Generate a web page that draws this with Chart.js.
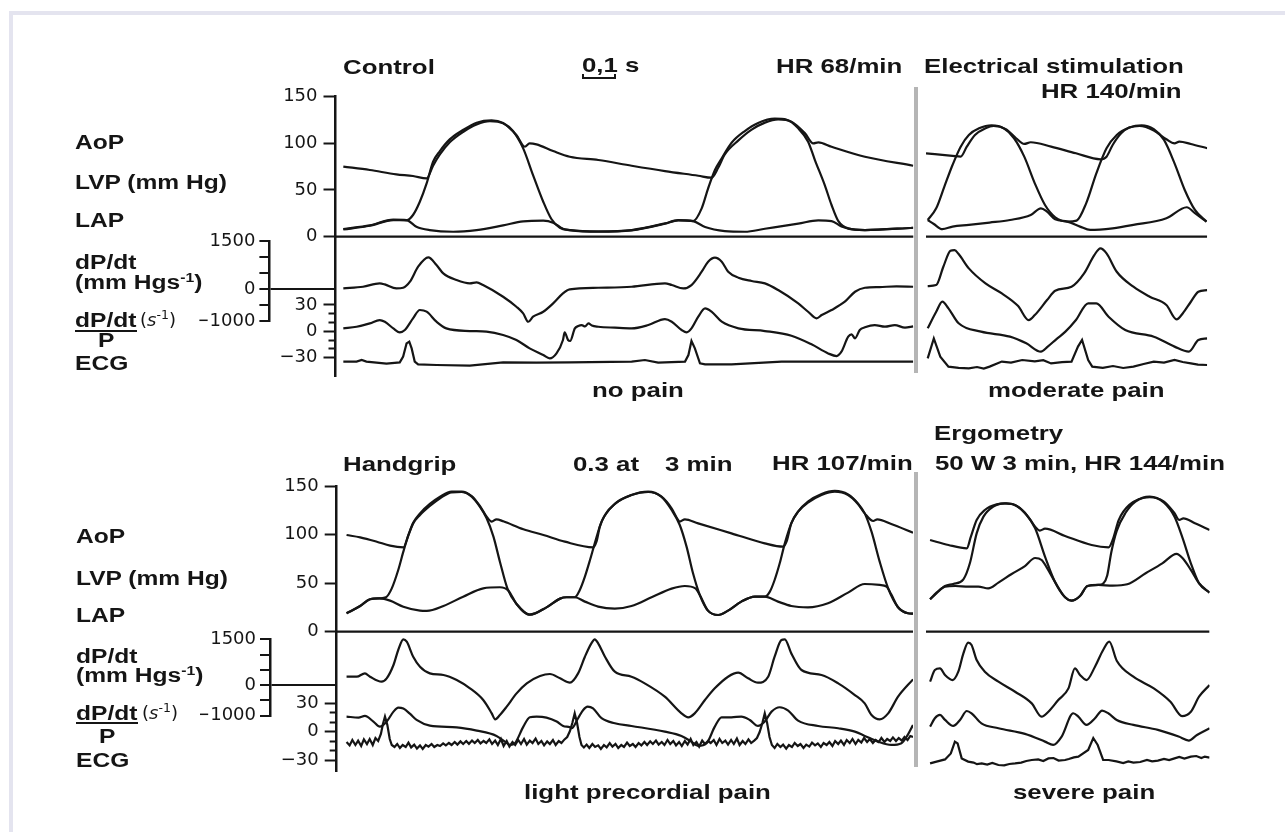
<!DOCTYPE html>
<html lang="en">
<head>
<meta charset="utf-8">
<title>AoP / LVP / LAP traces</title>
<script src="https://cdn.jsdelivr.net/npm/chart.js@4.4.1/dist/chart.umd.min.js"></script>
<style>
html, body { margin: 0; padding: 0; background: #fff; }
#page { position: relative; width: 1285px; height: 832px; overflow: hidden; background: #fff; }
#page canvas { position: absolute; left: 0; top: 0; }
.frame { position: absolute; left: 9px; top: 11px; width: 1400px; height: 1000px; border: 4px solid #e4e4ef; }
.t { position: absolute; font: bold 20.5px/20px "Liberation Sans", Arial, sans-serif; color: #151515; white-space: pre; transform: scaleX(1.26); transform-origin: 0 50%; }
.t.r { transform-origin: 100% 50%; }
.t.lab { font-size: 19.5px; line-height: 18.5px; }
.t sup, .n sup { font-size: 12.5px; vertical-align: 0; position: relative; top: -7px; }
.n { position: absolute; font: 18px/20px "DejaVu Sans", sans-serif; color: #151515; white-space: pre; }
.bar { position: absolute; background: #151515; }
.sep { position: absolute; width: 4px; background: #b5b5b5; }
.scalebar { position: absolute; border: 2px solid #151515; border-top: none; }
</style>
</head>
<body>
<div id="page">
  <div class="frame"></div>

  <canvas id="tlMain" width="1285" height="832"></canvas>
  <canvas id="tlRatioAxis" width="1285" height="832"></canvas>
  <canvas id="tlDpdtAxis" width="1285" height="832"></canvas>
  <canvas id="trMain" width="1285" height="832"></canvas>
  <canvas id="blMain" width="1285" height="832"></canvas>
  <canvas id="blRatioAxis" width="1285" height="832"></canvas>
  <canvas id="blDpdtAxis" width="1285" height="832"></canvas>
  <canvas id="brMain" width="1285" height="832"></canvas>

  <div class="sep" style="left:914px;top:87px;height:286px"></div>
  <div class="sep" style="left:914px;top:472px;height:295px"></div>

  <!-- top row headings -->
  <div class="t" style="left:343px;top:57px">Control</div>
  <div class="t" style="left:582px;top:55px">0,1 s</div>
  <div class="scalebar" style="left:582px;top:74px;width:30px;height:3px"></div>
  <div class="t" style="left:776px;top:56px">HR 68/min</div>
  <div class="t" style="left:924px;top:56px">Electrical stimulation</div>
  <div class="t r" style="right:103px;top:81px">HR 140/min</div>
  <div class="t" style="left:592px;top:380px">no pain</div>
  <div class="t" style="left:988px;top:380px">moderate pain</div>

  <!-- bottom row headings -->
  <div class="t" style="left:343px;top:454px">Handgrip</div>
  <div class="t" style="left:573px;top:454px">0.3 at</div>
  <div class="t" style="left:665px;top:454px">3 min</div>
  <div class="t" style="left:772px;top:453px">HR 107/min</div>
  <div class="t" style="left:934px;top:423px">Ergometry</div>
  <div class="t" style="left:935px;top:453px">50 W 3 min, HR 144/min</div>
  <div class="t" style="left:524px;top:782px">light precordial pain</div>
  <div class="t" style="left:1013px;top:782px">severe pain</div>

  <!-- trace names, top row -->
  <div class="t lab" style="left:75px;top:133px">AoP</div>
  <div class="t lab" style="left:75px;top:173px">LVP (mm Hg)</div>
  <div class="t lab" style="left:75px;top:211px">LAP</div>
  <div class="t lab" style="left:75px;top:253px">dP/dt</div>
  <div class="t lab" style="left:75px;top:273px">(mm Hgs<sup>-1</sup>)</div>
  <div class="t lab" style="left:75px;top:311px">dP/dt</div>
  <div class="bar" style="left:75px;top:330px;width:62px;height:2px"></div>
  <div class="t lab" style="left:98px;top:331px">P</div>
  <div class="n" style="left:140px;top:310px">(<i>s</i><sup>-1</sup>)</div>
  <div class="t lab" style="left:75px;top:354px">ECG</div>

  <!-- trace names, bottom row -->
  <div class="t lab" style="left:76px;top:527px">AoP</div>
  <div class="t lab" style="left:76px;top:569px">LVP (mm Hg)</div>
  <div class="t lab" style="left:76px;top:606px">LAP</div>
  <div class="t lab" style="left:76px;top:647px">dP/dt</div>
  <div class="t lab" style="left:76px;top:666px">(mm Hgs<sup>-1</sup>)</div>
  <div class="t lab" style="left:76px;top:704px">dP/dt</div>
  <div class="bar" style="left:76px;top:722px;width:62px;height:2px"></div>
  <div class="t lab" style="left:99px;top:727px">P</div>
  <div class="n" style="left:142px;top:703px">(<i>s</i><sup>-1</sup>)</div>
  <div class="t lab" style="left:76px;top:751px">ECG</div>
</div>

<script>
// Units: time in ms, pressures in mm Hg, dP/dt in mm Hg/s, dP/dt/P in 1/s,
// ECG in arbitrary units (R wave about 1)
const INK = '#151515';
const W = 1285, H = 832;

const pressureTicks = [0, 50, 100, 150];
const dpdtTicks = [-1000, -500, 0, 500, 1000, 1500];
const ratioTicks = [-30, -20, -10, 0, 10, 20, 30];

// length of each recording window (ms)
const spanTL = 1700, spanTR = 827, spanBL = 1695, spanBR = 834;

// ---------- Control (top left) ----------
const tlAoP = [[23,75],[101,71.3],[179,66.7],[228,64.9],[268,62.4],[287,76],[307,88],[336,101],[375,112],[415,120],[454,123.5],[493,121.2],[532,108.7],[557,96.2],[571,99.8],[591,98.7],[640,91.6],[689,85.5],[773,82],[871,75.9],[969,70.2],[1067,65.2],[1106,63.1],[1126,74],[1145,88],[1185,103],[1224,114.5],[1263,122],[1302,125.5],[1341,123],[1381,110.5],[1405,99.8],[1420,100.9],[1459,96.2],[1557,85.5],[1699,75.9]];
const tlLVP = [[23,7.8],[101,11.7],[170,17.8],[209,17.5],[228,23.2],[248,37.4],[268,57],[287,80.2],[307,91.6],[336,104.1],[375,114.1],[415,121.9],[459,124.4],[493,121.6],[522,113],[552,94.5],[581,65.9],[611,37.4],[635,18.9],[660,9.6],[689,7.1],[773,5.3],[871,6.8],[969,13.9],[1008,17.5],[1052,16.7],[1077,30.3],[1096,51.7],[1116,71.3],[1136,83.8],[1165,100.5],[1204,113],[1243,121.6],[1292,126.2],[1327,125.1],[1361,115.9],[1390,101.6],[1410,82],[1439,55.2],[1459,33.9],[1479,16.7],[1508,8.9],[1557,7.1],[1699,9.6]];
const tlLAP = [[23,8.2],[101,12.1],[170,18.2],[209,17.8],[238,10.7],[277,7.1],[346,5.3],[415,7.1],[493,12.1],[552,16.4],[611,17.1],[640,15],[669,8.5],[689,7.1],[773,5.7],[871,7.1],[969,14.2],[1008,17.8],[1052,16.7],[1087,10.3],[1145,6],[1204,5.3],[1263,8.5],[1361,13.9],[1420,17.5],[1459,16.7],[1488,11],[1528,7.5],[1557,7.1],[1699,9.6]];
const tlDpdt = [[23,30],[81,80],[130,185],[145,153],[179,28],[199,49],[219,237],[243,706],[273,997],[297,758],[317,497],[356,289],[395,185],[415,216],[434,133],[493,-232],[532,-545],[552,-753],[567,-1014],[581,-857],[611,-701],[640,-441],[669,-128],[689,-3],[773,49],[871,80],[969,185],[989,133],[1023,28],[1047,133],[1077,549],[1096,862],[1116,987],[1136,862],[1155,549],[1185,362],[1224,258],[1263,185],[1302,-24],[1361,-441],[1390,-701],[1415,-909],[1430,-805],[1459,-649],[1498,-388],[1528,-76],[1557,49],[1600,70],[1650,90],[1699,80]];
const tlRatio = [[23,3.3],[62,5.2],[101,9],[130,12.8],[145,10.9],[170,3.3],[189,-1.2],[204,1.5],[228,14.7],[248,24.2],[268,22.3],[297,10.9],[326,3.3],[395,0.3],[444,-0.4],[493,-4.2],[532,-9.9],[571,-19.4],[611,-27],[630,-30.8],[650,-25.1],[669,-9.9],[674,-1.2],[684,-9.9],[690,-11],[704,3.3],[714,6],[724,7.1],[734,5.5],[744,9],[754,6.5],[773,5.2],[822,4.1],[871,3.3],[920,7.1],[969,13.9],[989,10.9],[1018,1.5],[1033,-1.2],[1047,3.3],[1067,16.6],[1087,26.1],[1106,22.3],[1136,10.9],[1185,3.3],[1263,0.3],[1341,-5],[1400,-14.8],[1449,-25.1],[1474,-28.1],[1488,-23.2],[1508,-6.1],[1518,-3.5],[1528,-8],[1542,1.5],[1557,4.5],[1586,7.1],[1616,5.2],[1645,7.1],[1675,4.1],[1699,5.6]];
const tlEcg = [[23,0.07],[62,0.07],[77,0.15],[91,0.07],[150,-0.03],[189,0.03],[199,0.32],[209,0.98],[217,1.07],[224,0.73],[233,0.07],[243,-0.07],[297,-0.1],[395,-0.13],[493,0.03],[591,0.02],[689,0.03],[871,0.07],[910,0.15],[949,0.02],[1028,0.07],[1038,0.4],[1047,1.1],[1057,0.73],[1072,-0.02],[1087,-0.07],[1165,-0.07],[1312,0.07],[1557,0.07],[1699,0.07]];

// ---------- Electrical stimulation (top right) ----------
const trAoP = [[0,89.2],[78,86.4],[102,85.6],[120,96.3],[144,108.8],[175,115.9],[199,118.4],[235,114.9],[265,105.3],[289,99.2],[308,101],[368,96.3],[441,89.2],[513,82.8],[531,85.6],[549,98.1],[574,110.6],[598,116.7],[628,118.4],[670,113.5],[707,104.2],[731,99.9],[745,101.7],[779,99.2],[827,94.6]];
const trLVP = [[5,17.9],[30,30.4],[54,53.6],[78,76.7],[102,96.3],[126,108.8],[156,115.9],[193,119.2],[229,115.9],[259,105.3],[289,85.6],[320,57.1],[350,33.9],[380,20.8],[416,16.1],[443,17.2],[471,35.7],[501,67.8],[531,94.6],[561,108.8],[598,116.7],[634,119.2],[670,114.9],[700,103.5],[731,78.5],[761,50],[791,28.6],[825,16.1]];
const trLAP = [[5,17.9],[23,13.6],[48,8],[78,10.8],[126,12.6],[187,15.1],[247,17.9],[308,23.3],[338,30.4],[356,26.8],[380,18.6],[416,16.1],[453,10.8],[483,7.2],[549,9],[610,12.6],[707,19.7],[767,31.5],[791,25.1],[825,16.1]];
const trDpdt = [[5,101],[30,132],[51,705],[72,1205],[84,1226],[96,1101],[126,653],[175,184],[223,-129],[271,-525],[302,-962],[320,-806],[356,-337],[380,-45],[428,80],[465,497],[495,1070],[513,1278],[531,1122],[561,549],[610,80],[658,-233],[707,-493],[737,-941],[755,-754],[779,-389],[801,-77],[827,-24]];
const trRatio = [[5,3.4],[30,22.3],[48,33.7],[66,26.1],[96,9.1],[162,-0.4],[247,-6.1],[295,-13.7],[338,-23.1],[358,-17.5],[383,-9.1],[410,-0.4],[441,12.9],[477,31.8],[501,31.8],[537,16.6],[586,1.5],[670,-6.1],[731,-17.4],[773,-23.1],[801,-9.9],[827,-8]];
const trEcg = [[5,0.23],[23,1.23],[42,0.32],[66,-0.18],[96,-0.24],[126,-0.27],[150,-0.2],[170,-0.28],[187,-0.18],[223,0.07],[250,0.02],[283,0.15],[320,0.08],[345,0.14],[368,-0.02],[400,0.04],[428,0.07],[447,0.82],[459,1.15],[477,0.15],[489,-0.18],[520,-0.24],[550,-0.15],[580,-0.25],[610,-0.18],[640,-0.05],[670,0.07],[700,0.02],[731,0.15],[755,0.05],[779,-0.02],[800,-0.08],[827,-0.1]];

// ---------- Handgrip (bottom left) ----------
const blAoP = [[29,99.7],[69,97.3],[118,92.8],[157,88.7],[196,87],[211,99.7],[225,111.7],[245,120.3],[274,129.6],[304,137.5],[338,143.7],[368,144],[397,139.9],[421,129.6],[441,118.6],[456,113.5],[470,115.9],[490,113.8],[549,105.6],[608,99.7],[671,92.8],[754,87],[764,92.8],[774,108.3],[789,120.3],[818,131.7],[867,140.9],[916,144],[955,139.2],[985,127.2],[1004,115.2],[1009,113.5],[1024,115.9],[1063,111.7],[1161,101.4],[1259,91.1],[1313,87.7],[1323,92.8],[1337,111.7],[1357,123.8],[1386,133],[1426,140.9],[1465,144.4],[1504,140.9],[1533,131.7],[1553,122],[1578,114.1],[1590,115.9],[1631,111],[1695,102.1]];
const blLVP = [[29,19],[69,26.5],[98,33.4],[127,34.4],[145,35.5],[162,44.7],[181,63.6],[196,82.5],[211,99.7],[225,112.4],[245,122],[274,131.7],[304,139.2],[338,144.4],[368,144.4],[397,139.2],[421,128.9],[441,116.9],[461,98],[480,72.2],[502,44.7],[529,28.6],[568,17.6],[617,25.1],[657,34.1],[676,35.5],[700,35.5],[715,43],[730,56.8],[745,73.9],[759,91.1],[779,113.5],[818,131.7],[867,140.9],[916,144.4],[955,139.2],[985,125.5],[1009,110],[1029,87.7],[1048,60.2],[1068,37.8],[1092,21.7],[1122,17.2],[1151,21.7],[1190,31],[1230,36.1],[1259,36.1],[1274,41.3],[1288,53.3],[1303,70.5],[1318,91.1],[1337,111.7],[1357,123.8],[1386,134.1],[1426,142],[1465,145.1],[1504,141.6],[1533,132.3],[1553,122],[1573,103.1],[1597,72.2],[1622,44.7],[1651,25.2],[1680,19],[1695,18.6]];
const blLAP = [[29,19],[69,26.5],[98,33.4],[127,34.4],[157,32],[196,25.8],[245,21.7],[265,21.4],[314,26.5],[372,36.1],[431,44.7],[480,45.8],[505,42.3],[529,28.6],[568,17.6],[617,25.1],[657,34.1],[676,35.5],[700,35.5],[730,31],[769,25.8],[818,23.8],[867,26.5],[926,35.5],[985,44.4],[1024,47.1],[1055,44.7],[1068,37.8],[1092,21.7],[1122,17.2],[1151,21.7],[1190,31],[1230,36.1],[1259,36.1],[1298,31],[1337,26.5],[1386,25.1],[1445,29.3],[1504,40.3],[1553,49.2],[1597,48.2],[1617,46.5],[1631,38.5],[1651,25.2],[1680,19],[1695,18.6]];
const blDpdt = [[29,272],[59,272],[83,382],[98,272],[132,108],[147,218],[167,655],[181,1147],[196,1497],[206,1420],[225,928],[245,600],[274,382],[314,327],[353,163],[392,-110],[431,-493],[456,-930],[466,-1127],[480,-985],[500,-711],[529,-274],[559,54],[598,294],[627,360],[657,218],[686,76],[710,382],[730,928],[749,1365],[759,1497],[769,1365],[789,928],[818,436],[867,272],[906,54],[965,-383],[1014,-930],[1034,-1061],[1053,-930],[1083,-493],[1112,-110],[1151,272],[1181,403],[1210,218],[1239,76],[1269,272],[1288,928],[1308,1475],[1318,1497],[1337,1037],[1367,491],[1426,327],[1475,54],[1524,-329],[1553,-602],[1573,-985],[1597,-1127],[1622,-930],[1651,-383],[1695,185]];
const blRatio = [[29,15.8],[64,14.8],[83,16.5],[108,10.6],[127,5.3],[147,10.6],[167,21],[181,25.2],[196,24.2],[216,18.6],[235,12.3],[274,6.4],[353,4.6],[412,1.2],[470,-4.4],[495,-10.4],[510,-13.9],[524,-12.1],[549,5.3],[568,15.1],[588,15.8],[617,14.8],[647,10.6],[666,6],[686,4.6],[691,3.6],[710,14.1],[725,22.8],[738,26.3],[754,24.5],[779,14.1],[818,8.8],[867,6],[965,0.1],[1014,-4.4],[1043,-10.4],[1063,-14.9],[1088,-12.1],[1112,5.3],[1132,15.1],[1161,15.1],[1190,15.8],[1215,12.3],[1239,6],[1259,10.6],[1279,21],[1303,25.6],[1328,22.1],[1357,11.6],[1416,6],[1475,3.6],[1524,0.1],[1553,-4.4],[1592,-10.4],[1631,-13.9],[1661,-12.1],[1680,-3],[1695,7]];
const blEcg = [[29,0.05],[38,-0.12],[46,0.15],[55,-0.1],[63,0.12],[72,-0.15],[80,0.18],[89,-0.05],[97,0.2],[106,-0.1],[114,0.25],[122,0.1],[130,0.45],[136,0.95],[142,1.32],[149,0.9],[156,0.2],[162,-0.1],[170,-0.2],[178,-0.05],[186,-0.25],[194,-0.1],[203,-0.2],[211,0.02],[219,-0.22],[228,-0.08],[236,-0.28],[245,-0.12],[253,-0.3],[262,-0.1],[270,-0.18],[279,-0.05],[287,-0.2],[296,-0.1],[304,-0.15],[313,-0.02],[321,-0.12],[330,0],[338,-0.1],[347,0.05],[355,-0.08],[364,0.08],[372,-0.05],[381,0.1],[389,-0.04],[398,0.12],[406,0],[415,0.15],[423,-0.02],[432,0.1],[440,0],[449,0.18],[457,-0.05],[466,0.12],[474,-0.1],[483,0.2],[491,-0.15],[500,0.1],[508,-0.18],[517,0.05],[525,-0.1],[534,0.15],[542,-0.05],[551,0.2],[559,-0.08],[568,0.12],[576,0],[585,0.22],[593,-0.05],[602,0.1],[610,-0.12],[619,0.08],[627,-0.05],[636,0.15],[644,-0.1],[653,0.1],[661,0],[670,0.18],[678,0.3],[686,0.6],[693,1],[700,1.48],[707,1],[714,0.3],[720,-0.1],[727,-0.22],[735,-0.08],[743,-0.25],[752,-0.05],[760,-0.2],[769,-0.12],[777,-0.3],[786,-0.1],[794,-0.22],[803,0],[811,-0.18],[820,-0.05],[828,-0.25],[837,-0.1],[845,-0.2],[854,0.02],[862,-0.15],[871,-0.05],[879,-0.2],[888,0],[896,-0.12],[905,0.05],[913,-0.1],[922,0.08],[930,-0.05],[939,0.12],[947,-0.08],[956,0.05],[964,-0.1],[973,0.15],[981,-0.05],[990,0.1],[998,-0.12],[1007,0.05],[1015,-0.15],[1024,0.1],[1032,-0.08],[1041,0.2],[1049,-0.1],[1058,0.05],[1066,-0.18],[1075,0.12],[1083,-0.05],[1092,0.1],[1100,0],[1109,0.15],[1117,-0.1],[1126,0.2],[1134,0],[1143,0.12],[1151,-0.08],[1160,0.15],[1168,-0.05],[1177,0.22],[1185,-0.1],[1194,0.1],[1202,-0.05],[1211,0.18],[1219,0],[1228,0.12],[1236,0.25],[1244,0.55],[1252,1],[1259,1.48],[1266,1],[1273,0.3],[1280,-0.1],[1288,-0.25],[1296,-0.05],[1305,-0.2],[1313,-0.08],[1322,-0.28],[1330,-0.1],[1339,-0.2],[1347,0],[1356,-0.15],[1364,-0.05],[1373,-0.25],[1381,-0.08],[1390,-0.18],[1398,0.02],[1407,-0.12],[1415,-0.02],[1424,-0.2],[1432,0],[1441,-0.1],[1449,0.05],[1458,-0.15],[1466,0.1],[1475,-0.05],[1483,0.12],[1492,-0.1],[1500,0.15],[1509,0],[1517,0.2],[1526,-0.05],[1534,0.15],[1543,0.02],[1551,0.25],[1560,0.05],[1568,0.2],[1577,0],[1585,0.15],[1594,0.05],[1602,0.25],[1611,0.05],[1619,0.2],[1628,0.1],[1636,0.28],[1645,0.1],[1653,0.25],[1662,0.12],[1670,0.3],[1679,0.15],[1687,0.35],[1695,0.3]];

// ---------- Ergometry (bottom right) ----------
const brAoP = [[12,94.6],[66,89.4],[120,86],[132,98],[149,115.2],[173,125.5],[208,131.3],[237,132.3],[267,129.6],[296,120.3],[321,108.3],[335,104.2],[350,106.2],[409,98.7],[487,89.4],[537,87],[549,94.6],[567,115.2],[598,130.7],[658,138.6],[700,134.1],[731,122.1],[745,115.2],[757,116.9],[791,111.8],[834,104.9]];
const brLVP = [[12,33.4],[31,39.6],[56,47.1],[80,49.2],[110,54],[129,70.5],[149,101.4],[169,118.6],[198,128.9],[232,132.3],[262,130.6],[291,122.7],[321,106.6],[350,77.4],[379,51.6],[409,35.5],[428,32],[453,36.8],[475,47.1],[507,48.2],[522,50],[533,58],[545,82],[561,104],[586,122.1],[616,134.1],[658,139.3],[700,133.1],[731,118.6],[755,96.3],[779,70.5],[803,49.9],[834,40.3]];
const brLAP = [[12,33.4],[31,40.3],[56,46.5],[86,47.1],[125,46.5],[154,46.5],[183,44.7],[213,50.6],[252,59.5],[291,67.7],[321,76],[340,73.9],[355,66.4],[379,51.6],[409,35.5],[428,32],[453,36.8],[475,47.1],[507,48.2],[549,47.5],[592,48.9],[646,60.2],[695,70.5],[737,80.2],[755,75.7],[779,63.7],[803,49.9],[834,40.3]];
const brDpdt = [[12,108],[26,491],[41,546],[56,327],[78,163],[95,436],[110,1037],[124,1388],[134,1311],[149,819],[173,436],[213,108],[262,-220],[311,-602],[340,-1040],[360,-875],[389,-493],[419,-110],[438,546],[453,327],[472,163],[497,600],[521,1147],[539,1420],[561,797],[610,272],[670,-110],[719,-548],[753,-1018],[779,-876],[803,-384],[834,-1]];
const brRatio = [[12,5.3],[26,14.1],[41,17.6],[56,12.3],[80,6],[100,12.3],[120,21.7],[134,19.3],[163,8.8],[213,3.6],[291,-2.3],[350,-10.4],[374,-13.9],[399,-5.1],[433,19.3],[448,15.8],[472,7.1],[497,14.1],[518,22.1],[537,19],[561,12.3],[610,7.1],[682,1.9],[743,-5.1],[773,-9.3],[797,-3.4],[834,3.6]];
const brEcg = [[12,-1.02],[31,-0.93],[56,-0.82],[73,-0.52],[85,0.07],[93,-0.02],[105,-0.77],[124,-0.93],[140,-0.98],[150,-1.06],[164,-1.02],[180,-1.08],[195,-1],[213,-1.1],[230,-1.12],[245,-1.05],[262,-1.02],[280,-0.98],[295,-0.9],[311,-0.85],[330,-0.82],[345,-0.9],[360,-0.77],[375,-0.75],[390,-0.88],[409,-0.85],[420,-0.8],[435,-0.72],[448,-0.68],[477,-0.35],[492,0.25],[505,-0.1],[521,-0.85],[537,-0.85],[560,-0.92],[580,-1],[595,-0.92],[610,-0.98],[630,-0.95],[650,-0.85],[665,-0.92],[682,-0.88],[700,-0.8],[715,-0.85],[731,-0.77],[745,-0.7],[760,-0.78],[779,-0.68],[795,-0.65],[810,-0.75],[820,-0.68],[834,-0.73]];

// ---------- page layout (pixels) ----------
// for each row: plot top/bottom and, per trace, [pixel of zero, px per unit]
const rowTop = { top: 96.5, bottom: 376, p: [236.7, 0.935], d: [289.3, 0.032], r: [331.3, 0.88], e: [363, 20] };
const rowBottom = { top: 486.2, bottom: 771, p: [631.7, 0.97], d: [685, 0.0305], r: [731.7, 0.955], e: [743, 20] };

function range(row, key, top, bottom) {
  const [zero, k] = row[key];
  top = top === undefined ? row.top : top;
  bottom = bottom === undefined ? row.bottom : bottom;
  return { min: -(bottom - zero) / k, max: (zero - top) / k };
}

function trace(points, yAxisID, smooth) {
  return {
    data: points.map(([x, y]) => ({ x, y })),
    yAxisID,
    borderColor: INK,
    borderWidth: 2.2,
    pointRadius: 0,
    fill: false,
    tension: 0,
    cubicInterpolationMode: smooth ? 'monotone' : 'default'
  };
}

const tickFont = { family: 'DejaVu Sans', size: 18 };

function leftAxis(r, values, label, width, tickLen, pad, showBorder, grid) {
  return {
    type: 'linear', position: 'left', min: r.min, max: r.max,
    afterBuildTicks: s => { s.ticks = values.map(v => ({ value: v })); },
    afterFit: s => { s.width = width; s.paddingTop = 0; s.paddingBottom = 0; },
    border: { display: showBorder, color: INK, width: 2.5 },
    grid: Object.assign({ drawOnChartArea: false, tickLength: tickLen, tickWidth: 2, tickColor: INK }, grid || {}),
    ticks: { autoSkip: false, padding: pad, color: INK, font: tickFont, callback: label }
  };
}

const common = {
  responsive: false,
  animation: false,
  events: [],
  plugins: { legend: { display: false }, tooltip: { enabled: false } }
};

// one panel of traces, optionally with the pressure axis on its left edge
function tracePanel(id, row, left, right, span, tr, withAxis) {
  const axisW = withAxis ? 70 : 0;
  const pRange = range(row, 'p');
  new Chart(document.getElementById(id), {
    type: 'line',
    data: {
      datasets: [
        trace([[0, 0], [span, 0]], 'yP', false),
        trace(tr.aop, 'yP', true),
        trace(tr.lvp, 'yP', true),
        trace(tr.lap, 'yP', true),
        trace(tr.dpdt, 'yD', true),
        trace(tr.ratio, 'yR', true),
        trace(tr.ecg, 'yE', false)
      ]
    },
    options: Object.assign({}, common, {
      layout: { padding: { left: left - axisW, right: W - right, top: row.top, bottom: H - row.bottom } },
      scales: {
        x: { type: 'linear', min: 0, max: span, display: false },
        yP: withAxis
          ? leftAxis(pRange, pressureTicks, v => String(v), axisW, 12, 6, true)
          : Object.assign({ type: 'linear', display: false }, pRange),
        yD: Object.assign({ type: 'linear', display: false }, range(row, 'd')),
        yR: Object.assign({ type: 'linear', display: false }, range(row, 'r')),
        yE: Object.assign({ type: 'linear', display: false }, range(row, 'e'))
      }
    })
  });
}

// an axis drawn by itself on its own transparent canvas
function axisOnly(id, scale, left, right, top, bottom, width) {
  new Chart(document.getElementById(id), {
    type: 'line',
    data: { datasets: [] },
    options: Object.assign({}, common, {
      layout: { padding: { left: left - width, right: W - right, top: top, bottom: H - bottom } },
      scales: { x: { type: 'linear', min: 0, max: 1, display: false }, y: scale }
    })
  });
}

const ratioLabel = v => (v === 30 ? '30' : v === 0 ? '0' : v === -30 ? '\u221230' : '');
const dpdtLabel = v => (v === 1500 ? '1500' : v === 0 ? '0' : v === -1000 ? '\u22121000' : '');
// labelled ticks are long, the others only show their inner part
const ratioGrid = { tickBorderDash: ctx => (ctx.tick && ctx.tick.value % 30 === 0 ? [] : [0, 5, 20]) };
const dpdtGrid = {
  drawOnChartArea: true,
  lineWidth: 2,
  color: ctx => (ctx.tick && ctx.tick.value === 0 ? INK : 'rgba(0,0,0,0)')
};

function leftBlock(prefix, row, axisX, dAxisX, right, span, tr) {
  tracePanel(prefix + 'Main', row, axisX, right, span, tr, true);
  axisOnly(prefix + 'RatioAxis',
    leftAxis(range(row, 'r'), ratioTicks, ratioLabel, 70, 12, 6, false, ratioGrid),
    axisX, right, row.top, row.bottom, 70);
  const [dz, dk] = row.d;
  const dTop = dz - 1500 * dk, dBottom = dz + 1000 * dk;
  axisOnly(prefix + 'DpdtAxis',
    leftAxis(range(row, 'd', dTop, dBottom), dpdtTicks, dpdtLabel, 70, 10, 4, true, dpdtGrid),
    dAxisX, axisX, dTop, dBottom, 70);
}

leftBlock('tl', rowTop, 335.5, 269.4, 335.5 + spanTL * 0.34, spanTL,
  { aop: tlAoP, lvp: tlLVP, lap: tlLAP, dpdt: tlDpdt, ratio: tlRatio, ecg: tlEcg });
tracePanel('trMain', rowTop, 926, 926 + spanTR * 0.34, spanTR,
  { aop: trAoP, lvp: trLVP, lap: trLAP, dpdt: trDpdt, ratio: trRatio, ecg: trEcg }, false);
leftBlock('bl', rowBottom, 336.7, 270, 336.7 + spanBL * 0.34, spanBL,
  { aop: blAoP, lvp: blLVP, lap: blLAP, dpdt: blDpdt, ratio: blRatio, ecg: blEcg });
tracePanel('brMain', rowBottom, 926, 926 + spanBR * 0.34, spanBR,
  { aop: brAoP, lvp: brLVP, lap: brLAP, dpdt: brDpdt, ratio: brRatio, ecg: brEcg }, false);
</script>
</body>
</html>
